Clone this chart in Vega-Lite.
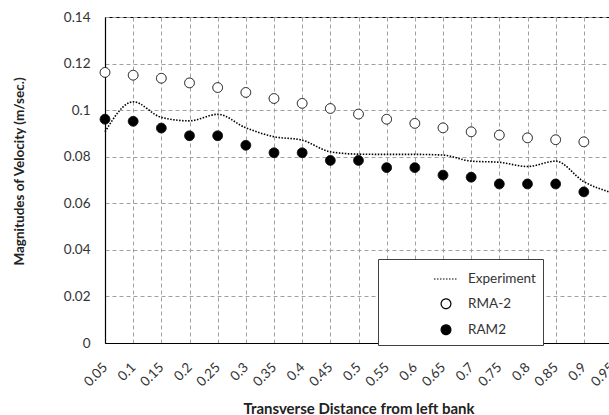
{
  "$schema": "https://vega.github.io/schema/vega-lite/v6.json",
  "width": 507,
  "height": 326,
  "autosize": "none",
  "padding": {"left": 105, "top": 17, "right": 0, "bottom": 72},
  "background": "white",
  "config": {
    "font": "Lato",
    "view": {"stroke": "black", "strokeWidth": 1},
    "legend": {
      "orient": "none", "legendX": 273, "legendY": 242,
      "padding": 7, "strokeColor": "#404040", "fillColor": "white",
      "symbolOffset": 48, "labelOffset": 9, "symbolStrokeWidth": 1.2,
      "rowPadding": 10, "labelFontSize": 13.5, "labelColor": "#333333",
      "labelExpr": "datum.label + '\u00a0\u00a0\u00a0\u00a0\u00a0\u00a0\u00a0\u00a0\u00a0\u00a0\u00a0\u00a0'",
      "labelLimit": 300
    }
  },
  "data": {"values": [
    {"x": 0.05, "series": "Experiment", "v": 0.0907},
    {"x": 0.10, "series": "Experiment", "v": 0.1036},
    {"x": 0.15, "series": "Experiment", "v": 0.0969},
    {"x": 0.20, "series": "Experiment", "v": 0.0954},
    {"x": 0.25, "series": "Experiment", "v": 0.0982},
    {"x": 0.30, "series": "Experiment", "v": 0.0924},
    {"x": 0.35, "series": "Experiment", "v": 0.0886},
    {"x": 0.40, "series": "Experiment", "v": 0.0871},
    {"x": 0.45, "series": "Experiment", "v": 0.0821},
    {"x": 0.50, "series": "Experiment", "v": 0.0811},
    {"x": 0.55, "series": "Experiment", "v": 0.0810},
    {"x": 0.60, "series": "Experiment", "v": 0.0810},
    {"x": 0.65, "series": "Experiment", "v": 0.0807},
    {"x": 0.70, "series": "Experiment", "v": 0.0781},
    {"x": 0.75, "series": "Experiment", "v": 0.0776},
    {"x": 0.80, "series": "Experiment", "v": 0.0758},
    {"x": 0.85, "series": "Experiment", "v": 0.0781},
    {"x": 0.90, "series": "Experiment", "v": 0.0693},
    {"x": 0.95, "series": "Experiment", "v": 0.0645},
    {"x": 0.05, "series": "RMA-2", "v": 0.1162},
    {"x": 0.10, "series": "RMA-2", "v": 0.1150},
    {"x": 0.15, "series": "RMA-2", "v": 0.1137},
    {"x": 0.20, "series": "RMA-2", "v": 0.1117},
    {"x": 0.25, "series": "RMA-2", "v": 0.1097},
    {"x": 0.30, "series": "RMA-2", "v": 0.1076},
    {"x": 0.35, "series": "RMA-2", "v": 0.1050},
    {"x": 0.40, "series": "RMA-2", "v": 0.1029},
    {"x": 0.45, "series": "RMA-2", "v": 0.1007},
    {"x": 0.50, "series": "RMA-2", "v": 0.0983},
    {"x": 0.55, "series": "RMA-2", "v": 0.0961},
    {"x": 0.60, "series": "RMA-2", "v": 0.0943},
    {"x": 0.65, "series": "RMA-2", "v": 0.0924},
    {"x": 0.70, "series": "RMA-2", "v": 0.0907},
    {"x": 0.75, "series": "RMA-2", "v": 0.0893},
    {"x": 0.80, "series": "RMA-2", "v": 0.0881},
    {"x": 0.85, "series": "RMA-2", "v": 0.0873},
    {"x": 0.90, "series": "RMA-2", "v": 0.0864},
    {"x": 0.05, "series": "RAM2", "v": 0.0961},
    {"x": 0.10, "series": "RAM2", "v": 0.0952},
    {"x": 0.15, "series": "RAM2", "v": 0.0923},
    {"x": 0.20, "series": "RAM2", "v": 0.0890},
    {"x": 0.25, "series": "RAM2", "v": 0.0890},
    {"x": 0.30, "series": "RAM2", "v": 0.0849},
    {"x": 0.35, "series": "RAM2", "v": 0.0817},
    {"x": 0.40, "series": "RAM2", "v": 0.0817},
    {"x": 0.45, "series": "RAM2", "v": 0.0784},
    {"x": 0.50, "series": "RAM2", "v": 0.0784},
    {"x": 0.55, "series": "RAM2", "v": 0.0753},
    {"x": 0.60, "series": "RAM2", "v": 0.0753},
    {"x": 0.65, "series": "RAM2", "v": 0.0721},
    {"x": 0.70, "series": "RAM2", "v": 0.0712},
    {"x": 0.75, "series": "RAM2", "v": 0.0683},
    {"x": 0.80, "series": "RAM2", "v": 0.0683},
    {"x": 0.85, "series": "RAM2", "v": 0.0683},
    {"x": 0.90, "series": "RAM2", "v": 0.0649}
  ]},
  "encoding": {
    "x": {
      "field": "x", "type": "quantitative",
      "scale": {"domain": [0.05, 0.95], "nice": false, "zero": false},
      "axis": {
        "values": [0.05, 0.1, 0.15, 0.2, 0.25, 0.3, 0.35, 0.4, 0.45, 0.5, 0.55, 0.6, 0.65, 0.7, 0.75, 0.8, 0.85, 0.9, 0.95],
        "format": ".2~f",
        "labelAngle": -45, "labelAlign": "right", "labelBaseline": "middle",
        "labelPadding": 22, "labelFontSize": 13.5, "labelColor": "#333333",
        "labelOverlap": false, "labelFlush": false,
        "grid": true, "gridDash": [4, 3], "gridColor": "#a0a0a0", "gridWidth": 1,
        "domainColor": "black", "domainWidth": 1.2, "ticks": false,
        "title": "Transverse  Distance from left bank",
        "titleFontWeight": "bold", "titleFontSize": 15, "titleColor": "#222222",
        "titleY": 65, "titleBaseline": "middle"
      }
    },
    "y": {
      "field": "v", "type": "quantitative",
      "scale": {"domain": [0, 0.14], "nice": false},
      "axis": {
        "values": [0, 0.02, 0.04, 0.06, 0.08, 0.1, 0.12, 0.14],
        "format": ".2~f",
        "labelPadding": 15, "labelFontSize": 13.5, "labelColor": "#333333",
        "grid": true, "gridDash": [4, 3], "gridColor": "#a0a0a0", "gridWidth": 1,
        "domainColor": "black", "domainWidth": 1.2, "ticks": false,
        "title": "Magnitudes of Velocity (m/sec.)",
        "titleFontWeight": "bold", "titleFontSize": 13.5, "titleColor": "#222222",
        "titleX": -86, "titleY": 154, "titleBaseline": "middle"
      }
    },
    "color": {
      "field": "series", "type": "nominal",
      "scale": {"domain": ["Experiment", "RMA-2", "RAM2"], "range": ["black", "white", "black"]},
      "legend": {"title": null}
    }
  },
  "layer": [
    {
      "transform": [{"filter": "datum.series === 'Experiment'"}],
      "mark": {"type": "line", "interpolate": "monotone", "strokeDash": [1.5, 1.5], "strokeWidth": 1.6},
      "encoding": {"color": {"value": "black"}}
    },
    {
      "transform": [{"filter": "datum.series === 'RMA-2'"}],
      "mark": {"type": "point", "filled": true, "stroke": "black", "strokeWidth": 1, "opacity": 1, "fillOpacity": 1},
      "encoding": {
        "shape": {"field": "series", "type": "nominal", "legend": {"title": null}, "scale": {"domain": ["Experiment", "RMA-2", "RAM2"], "range": ["stroke", "circle", "circle"]}},
        "size": {"field": "series", "type": "nominal", "legend": {"title": null}, "scale": {"type": "ordinal", "domain": ["Experiment", "RMA-2", "RAM2"], "range": [576, 95, 95]}},
        "strokeDash": {"field": "series", "type": "nominal", "legend": {"title": null}, "scale": {"domain": ["Experiment", "RMA-2", "RAM2"], "range": [[1.5, 1.5], [1, 0], [1, 0]]}}
      }
    },
    {
      "transform": [{"filter": "datum.series === 'RAM2'"}],
      "mark": {"type": "point", "filled": true, "stroke": "black", "strokeWidth": 1, "opacity": 1, "fillOpacity": 1},
      "encoding": {
        "shape": {"field": "series", "type": "nominal", "legend": {"title": null}, "scale": {"domain": ["Experiment", "RMA-2", "RAM2"], "range": ["stroke", "circle", "circle"]}},
        "size": {"field": "series", "type": "nominal", "legend": {"title": null}, "scale": {"type": "ordinal", "domain": ["Experiment", "RMA-2", "RAM2"], "range": [576, 95, 95]}},
        "strokeDash": {"field": "series", "type": "nominal", "legend": {"title": null}, "scale": {"domain": ["Experiment", "RMA-2", "RAM2"], "range": [[1.5, 1.5], [1, 0], [1, 0]]}}
      }
    }
  ]
}
